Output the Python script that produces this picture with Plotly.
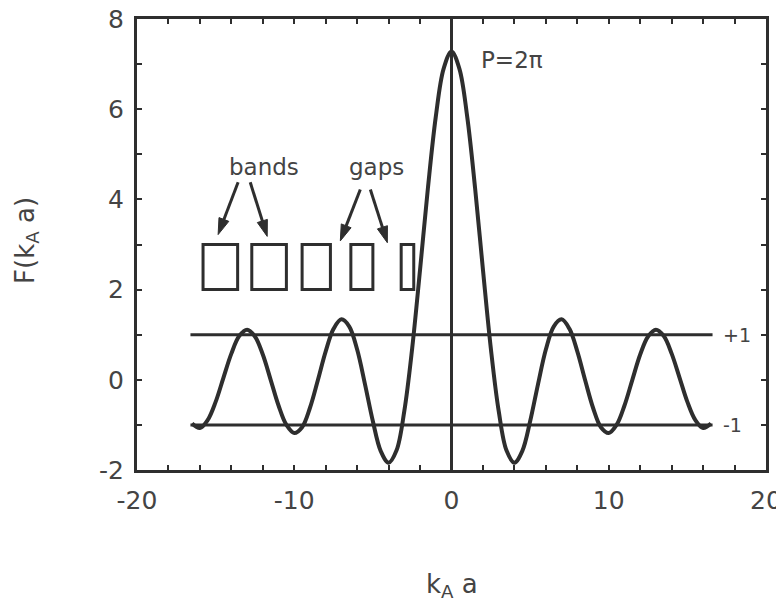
import plotly.graph_objects as go

# Curve F(k_A a) (P = 2*pi)
ka = [-16.5, -16.0, -15.5, -15.0, -14.5, -14.0, -13.5, -13.0, -12.5, -12.0, -11.5, -11.0,
      -10.5, -10.0, -9.5, -9.0, -8.5, -8.0, -7.5, -7.0, -6.5, -6.0, -5.5, -5.0, -4.5, -4.0,
      -3.5, -3.0, -2.5, -2.0, -1.5, -1.0, -0.5, 0.0, 0.5, 1.0, 1.5, 2.0, 2.5, 3.0, 3.5, 4.0,
      4.5, 5.0, 5.5, 6.0, 6.5, 7.0, 7.5, 8.0, 8.5, 9.0, 9.5, 10.0, 10.5, 11.0, 11.5, 12.0,
      12.5, 13.0, 13.5, 14.0, 14.5, 15.0, 15.5, 16.0, 16.5]
F = [-0.97, -1.07, -0.89, -0.49, 0.05, 0.58, 0.97, 1.11, 0.96, 0.56, 0.00, -0.57,
     -1.00, -1.18, -1.05, -0.62, -0.01, 0.63, 1.13, 1.34, 1.18, 0.67, -0.10, -0.92, -1.58, -1.84,
     -1.57, -0.69, 0.70, 2.44, 4.25, 5.83, 6.90, 7.28, 6.90, 5.83, 4.25, 2.44, 0.70, -0.69, -1.57, -1.84,
     -1.58, -0.92, -0.10, 0.67, 1.18, 1.34, 1.13, 0.63, -0.01, -0.62, -1.05, -1.18, -1.00, -0.57, 0.00, 0.56,
     0.96, 1.11, 0.97, 0.58, 0.05, -0.49, -0.89, -1.07, -0.97]

# Reference levels +1 / -1
level_x = [-16.6, 16.6]
level_plus = [1, 1]
level_minus = [-1, -1]

# Allowed bands (boxes) on the negative side
band_start = [-15.8, -12.7, -9.5, -6.4, -3.2]
band_end = [-13.6, -10.5, -7.7, -5.0, -2.4]
band_low, band_high = 2.0, 3.0

# Tick labels
x_tickvals = [-20, -10, 0, 10, 20]
x_ticktext = ["-20", "-10", "0", "10", "20"]
y_tickvals = [-2, 0, 2, 4, 6, 8]
y_ticktext = ["-2", "0", "2", "4", "6", "8"]

INK = "#2e2e2e"
TXT = "#444444"
FONT = "DejaVu Sans, Liberation Sans, sans-serif"

fig = go.Figure()
fig.add_trace(go.Scatter(x=[0, 0], y=[-2, 8], mode="lines", line=dict(color=INK, width=3),
                         hoverinfo="skip"))
fig.add_trace(go.Scatter(x=level_x, y=level_plus, mode="lines", line=dict(color=INK, width=3)))
fig.add_trace(go.Scatter(x=level_x, y=level_minus, mode="lines", line=dict(color=INK, width=3)))
fig.add_trace(go.Scatter(x=ka, y=F, mode="lines", line=dict(color=INK, width=4, shape="spline")))

for s, e in zip(band_start, band_end):
    fig.add_shape(type="rect", xref="x", yref="y", x0=s, x1=e, y0=band_low, y1=band_high,
                  line=dict(color=INK, width=3))

# Arrows pointing at the bands and gaps (tail -> head)
arrows = [((-13.57, 4.38), (-14.84, 3.22)), ((-12.8, 4.38), (-11.72, 3.18)),
          ((-5.8, 4.22), (-7.07, 3.08)), ((-5.16, 4.22), (-4.08, 3.04))]
for (tx, ty), (hx, hy) in arrows:
    fig.add_trace(go.Scatter(x=[tx, hx], y=[ty, hy], mode="lines+markers",
                             line=dict(color=INK, width=3),
                             marker=dict(symbol=["circle", "arrow"], size=[0, 17],
                                         angleref="previous", color=INK, opacity=1,
                                         line=dict(width=1, color=INK)),
                             hoverinfo="skip"))

ann = []
ann.append(dict(x=1.75, y=7.1, xref="x", yref="y", text="P=2π", showarrow=False,
                xanchor="left", yanchor="middle", font=dict(size=23, color=TXT, family=FONT)))
ann.append(dict(x=17.15, y=1, xref="x", yref="y", text="+1", showarrow=False,
                xanchor="left", yanchor="middle", font=dict(size=19, color=TXT, family=FONT)))
ann.append(dict(x=17.15, y=-1, xref="x", yref="y", text="-1", showarrow=False,
                xanchor="left", yanchor="middle", font=dict(size=19, color=TXT, family=FONT)))
ann.append(dict(x=-11.9, y=4.72, xref="x", yref="y", text="bands", showarrow=False,
                font=dict(size=23, color=TXT, family=FONT)))
ann.append(dict(x=-4.8, y=4.72, xref="x", yref="y", text="gaps", showarrow=False,
                font=dict(size=23, color=TXT, family=FONT)))
ann.append(dict(x=0.5, y=-0.255, xref="paper", yref="paper", yanchor="middle",
                text="k<sub>A</sub> a", showarrow=False, font=dict(size=26, color=TXT, family=FONT)))
ann.append(dict(x=-0.175, y=0.51, xref="paper", yref="paper", textangle=-90,
                xanchor="center", yanchor="middle",
                text="F(k<sub>A</sub> a)", showarrow=False, font=dict(size=26, color=TXT, family=FONT)))

axis_common = dict(showline=True, linewidth=3, linecolor=INK, mirror="allticks",
                   ticks="inside", ticklen=5, tickwidth=2, tickcolor=INK,
                   showgrid=False, zeroline=False, automargin=False,
                   ticklabeloverflow="allow",
                   tickfont=dict(size=25, color=TXT, family=FONT))
fig.update_layout(
    width=784, height=607,
    margin=dict(l=129, r=26, t=11, b=145),
    paper_bgcolor="white", plot_bgcolor="white",
    showlegend=False,
    annotations=ann,
    xaxis=dict(range=[-20, 20], tickvals=x_tickvals, ticktext=x_ticktext,
               ticklabelstandoff=6,
               minor=dict(dtick=2, tick0=0, ticks="inside", ticklen=5, tickwidth=2, tickcolor=INK),
               **axis_common),
    yaxis=dict(range=[-2, 8], tickvals=y_tickvals, ticktext=y_ticktext,
               ticklabelstandoff=5,
               minor=dict(dtick=1, tick0=0, ticks="inside", ticklen=5, tickwidth=2, tickcolor=INK),
               **axis_common),
)
fig.write_html("out.html")
